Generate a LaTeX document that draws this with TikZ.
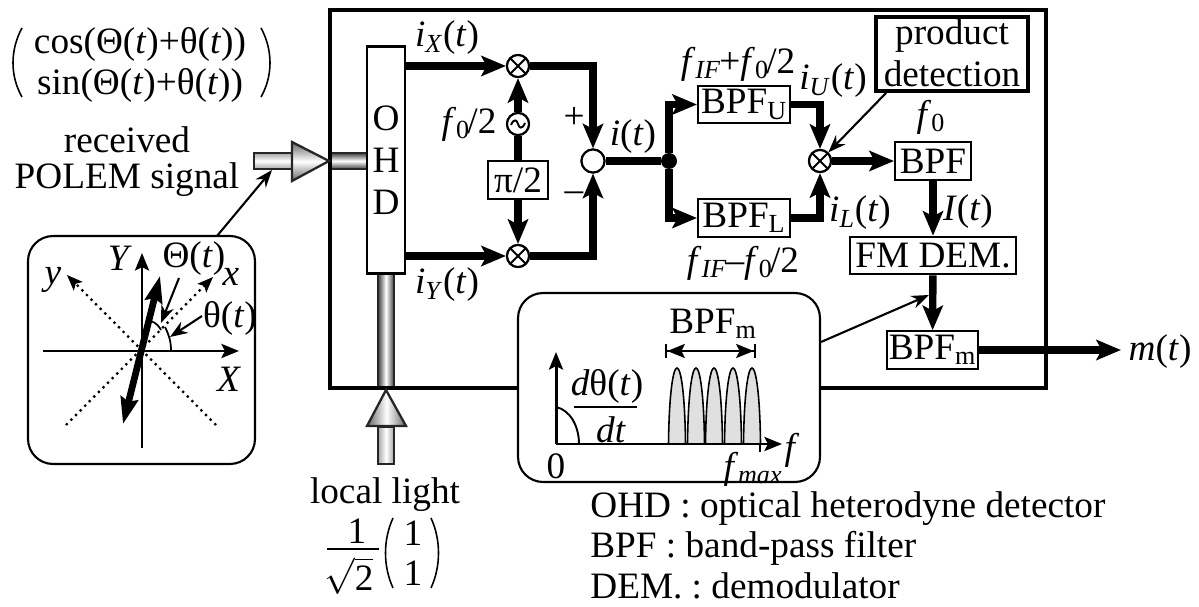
\documentclass[tikz,border=0pt]{standalone}
\usepackage{amsmath}
\usepackage{fontspec}
\setmainfont{Liberation Serif}
\usetikzlibrary{arrows.meta}

\newcommand{\sigt}[2]{\textit{#1}\textsubscript{\textit{#2}}(\textit{t})}
\newcommand{\fhalf}{\textit{f}\textsubscript{0}\kern-1.5pt/2}

\begin{document}
\begin{tikzpicture}[x=0.02cm, y=-0.02cm,
  every node/.style={font=\fontsize{21.2}{25}\selectfont\frenchspacing, inner sep=0pt},
  frame/.style={line width=2.4pt},
  block/.style={draw, line width=1.2pt, fill=white, minimum height=0.75cm},
  mixer/.style={draw, circle, line width=1.2pt, fill=white, minimum size=0.44cm,
    path picture={\draw[line width=1.1pt]
      (path picture bounding box.north west) -- (path picture bounding box.south east)
      (path picture bounding box.north east) -- (path picture bounding box.south west);}},
  adder/.style={draw, circle, line width=1.2pt, fill=white, minimum size=0.46cm},
  osc/.style={draw, circle, line width=1.2pt, fill=white, minimum size=0.44cm,
    path picture={\draw[line width=1.1pt, shift={(path picture bounding box.center)}]
      (-7,1) .. controls (-4,-6) and (-1,-4) .. (0,0)
      .. controls (1,4) and (4,6) .. (7,-1);}},
  sig/.style={line width=4.2pt, -{Stealth[length=14pt, width=11.5pt, inset=3pt]}},
  signoarrow/.style={line width=4.2pt},
  pointer/.style={line width=1.2pt, -{Stealth[length=10pt, width=7.5pt]}},
  axis/.style={line width=1.7pt, -{Stealth[length=10pt, width=8pt, inset=2pt]}},
  dotaxis/.style={line width=1.3pt, dash pattern=on 1.3pt off 2.4pt,
    -{Stealth[length=9pt, width=7pt, inset=2pt]}},
  inset/.style={draw, line width=1.2pt, rounded corners=0.5cm, fill=white},
  beam/.style={draw=black!85, line width=1.3pt},
  paren/.style={line width=0.9pt}
]
\useasboundingbox (0,0) rectangle (1199,607);

%% --- optical beams ---
\path[beam, top color=black!75, bottom color=black!75, middle color=white]
  (330,153) rectangle (367,169);
\path[beam, left color=black!75, right color=black!75, middle color=white]
  (378,274) rectangle (394,389);

%% --- receiver frame ---
\draw[frame] (330,10) rectangle (1046,388);

\path[beam, top color=black!35, bottom color=black!35, middle color=white]
  (254,153) rectangle (293,169);
\path[beam, top color=black!60, bottom color=black!60, middle color=white]
  (292,142) -- (329,161) -- (292,181) -- cycle;
\path[beam, left color=black!35, right color=black!35, middle color=white]
  (378,427) rectangle (394,464);
\path[beam, left color=black!60, right color=black!60, middle color=white]
  (367,426) -- (386,390) -- (406,426) -- cycle;

%% --- blocks ---
\node[block, minimum width=0.76cm, minimum height=4.54cm] (ohd) at (386,160) {};
\node at (386,118) {O};
\node at (386,160) {H};
\node at (386,202) {D};

\node[mixer] (mixx) at (518,66) {};
\node[mixer] (mixy) at (518,256) {};
\node[osc] (lo) at (518,124) {};
\node[block, minimum width=1.2cm] (shift) at (518,180) {π/2};
\node[adder] (sum) at (593,161) {};
\node[circle, fill=black, minimum size=0.32cm] (junc) at (669,161) {};
\node[block, minimum width=1.84cm] (bpfu) at (744,104.5) {BPF\textsubscript{U}};
\node[block, minimum width=1.84cm] (bpfl) at (744,218) {BPF\textsubscript{L}};
\node[mixer] (mixp) at (820,161) {};
\node[block, minimum width=1.52cm] (bpf) at (933,161) {BPF};
\node[block, minimum width=3.32cm] (dem) at (933,255.5) {FM DEM.};
\node[block, minimum width=1.82cm] (bpfm) at (932.5,350) {BPF\textsubscript{m}};
\node[draw, line width=2.2pt, minimum width=3.04cm, minimum height=1.48cm] (prod) at (952,54) {};
\node at (952,36) {product};
\node at (952,74) {detection};
\coordinate (mout) at (1121,350);

%% --- signal paths ---
\draw[sig] (ohd.east |- mixx) -- (mixx);
\draw[sig] (ohd.east |- mixy) -- (mixy);
\draw[sig] (mixx) -| (sum);
\draw[sig] (mixy) -| (sum);
\draw[sig] (lo) -- (mixx);
\draw[signoarrow] (shift) -- (lo);
\draw[sig] (shift) -- (mixy);
\draw[signoarrow] (sum) -- (junc);
\draw[sig] (junc) |- (bpfu);
\draw[sig] (junc) |- (bpfl);
\draw[sig] (bpfu) -| (mixp);
\draw[sig] (bpfl) -| (mixp);
\draw[sig] (mixp) -- (bpf);
\draw[sig] (bpf) -- (dem);
\draw[sig] (dem) -- (bpfm);
\draw[sig] (bpfm) -- (mout);
\draw[pointer] (prod.south west) ++(12,0) -- (mixp);

%% --- redraw the round elements over the lines ---
\node[mixer] at (mixx) {};
\node[mixer] at (mixy) {};
\node[osc] at (lo) {};
\node[adder] at (sum) {};
\node[mixer] at (mixp) {};
\node[block, minimum width=1.2cm] at (shift) {π/2};

%% --- signal labels ---
\node at (447,38) {\sigt{i}{X}};
\node at (447,285) {\sigt{i}{Y}};
\node at (469,124) {\fhalf};
\node at (574,118) {+};
\node at (574,197) {–};
\node at (633,137) {\textit{i}(\textit{t})};
\node at (738,64) {\textit{f}\textsubscript{\textit{IF}}\kern-1pt+\textit{f}\textsubscript{0}\kern-1.5pt/2};
\node at (743,263) {\textit{f}\textsubscript{\textit{IF}}\kern-1pt–\textit{f}\textsubscript{0}\kern-1.5pt/2};
\node at (833,81) {\sigt{i}{U}};
\node at (860,213) {\sigt{i}{L}};
\node at (931,117) {\textit{f}\textsubscript{0}};
\node at (968,212) {\textit{I}(\textit{t})};
\node at (1160,352) {\textit{m}(\textit{t})};

%% --- spectrum inset ---
\node[inset, minimum width=6.04cm, minimum height=3.78cm] (spec) at (669,387.5) {};
\coordinate (specorg) at (556,444);
\coordinate (spectop) at (556,352);
\coordinate (specend) at (782,444);
\foreach \cx in {677,696,714,733,752}
  \draw[line width=0.9pt, fill=black!12] ({\cx-8.5},444) .. controls ({\cx-8},395) and ({\cx-4},368) .. (\cx,368)
    .. controls ({\cx+4},368) and ({\cx+8},395) .. ({\cx+8.5},444);
\draw[axis] (specorg) -- (spectop);
\draw[axis] (specorg) -- (specend);
\draw[line width=1.1pt] (556,407) .. controls (570,410) and (579,426) .. (579,444);
\draw[line width=1.6pt] (760,444) -- (760,452);
\node at (607,386) {\textit{d}θ(\textit{t})};
\draw[line width=1.6pt] (574,407) -- (637,407);
\node at (611,430) {\textit{dt}};
\node at (556,466) {0};
\node at (713,324) {BPF\textsubscript{m}};
\draw[line width=1.3pt, {Bar[width=8pt]Stealth[length=10pt, width=8pt, inset=2pt]}-{Stealth[length=10pt, width=8pt, inset=2pt]Bar[width=8pt]}]
  (665,351) -- (756,351);
\node at (753,469) {\textit{f}\textsubscript{\textit{max}}};
\node at (792,450) {\textit{f}};
\draw[pointer] (spec.east |- 0,342) -- (929,295);

%% --- polarization inset ---
\node[inset, minimum width=4.54cm, minimum height=4.56cm] (pol) at (141.5,350) {};
\coordinate (polorg) at (142,351);
\draw[dotaxis] (66,425) -- (213,277);
\draw[dotaxis] (216,425) -- (67,275);
\draw[axis] (43,351) -- (239,351);
\draw[axis] (142,448) -- (142,253);
\draw[line width=3.8pt, {Stealth[length=15pt, width=10pt, inset=2pt]}-{Stealth[length=15pt, width=10pt, inset=2pt]}]
  (123,424) -- (160,276);
\draw[line width=1pt] (171,351) .. controls (171,341) and (169,335) .. (165,327);
\draw[line width=1pt] (161,330) .. controls (159,326) and (156,323) .. (151,321);
\draw[pointer] (179,278) -- (161,323);
\draw[pointer] (202,316) -- (170,337);
\node at (120,258) {\textit{Y}};
\node at (194,259) {Θ(\textit{t})};
\node at (231,277) {\textit{x}};
\node at (53,280) {\textit{y}};
\node at (230,318) {θ(\textit{t})};
\node at (229,379) {\textit{X}};
\coordinate (beamfoot) at (272,170);
\draw[pointer] (217,236) -- (beamfoot);

%% --- polarization vectors and their captions ---
\node at (140,44) {cos(Θ(\textit{t})+θ(\textit{t}))};
\node at (140,85) {sin(Θ(\textit{t})+θ(\textit{t}))};
\draw[paren] (22,28) .. controls (10,50) and (10,76) .. (22,97);
\draw[paren] (261,28) .. controls (273,50) and (273,76) .. (261,97);
\node at (127,140) {received};
\node at (127,180) {POLEM signal};
\node at (385,495) {local light};
\node at (357,531) {1};
\draw[line width=1.5pt] (327,549) -- (379,549);
\node at (349,576) {$\sqrt{\mbox{2}}$};
\draw[paren] (393,518) .. controls (383,540) and (383,566) .. (393,588);
\draw[paren] (431,518) .. controls (441,540) and (441,566) .. (431,588);
\node at (413,533) {1};
\node at (413,573) {1};

%% --- abbreviations ---
\node[anchor=base west] at (590,517) {OHD : optical heterodyne detector};
\node[anchor=base west] at (590,557) {BPF : band-pass filter};
\node[anchor=base west] at (590,598) {DEM. : demodulator};

\end{tikzpicture}
\end{document}
